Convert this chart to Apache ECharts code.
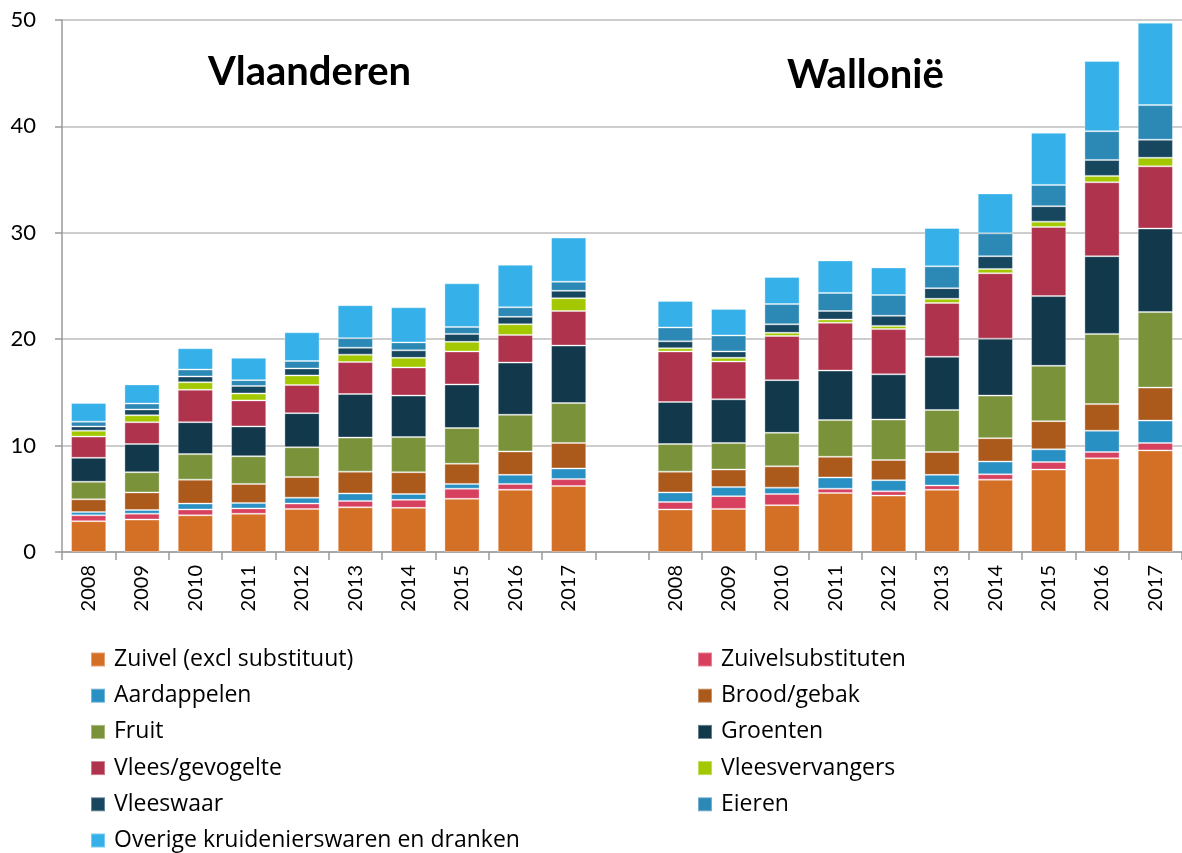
<!DOCTYPE html>
<html>
<head>
<meta charset="utf-8">
<script src="https://cdn.jsdelivr.net/npm/echarts@6/dist/echarts.min.js"></script>
<style>
  html, body { margin: 0; padding: 0; background: #fff; }
  #chart { width: 1182px; height: 853px; }
</style>
</head>
<body>
<div id="chart"></div>
<script>
//--------------------- Data ---------------------------//
// 10 years Vlaanderen, one empty slot, 10 years Wallonië
const years = ['2008', '2009', '2010', '2011', '2012', '2013', '2014', '2015', '2016', '2017'];
const categories = [...years, '', ...years];

const zuivel = [2.9, 3.05, 3.45, 3.6, 4.05, 4.2, 4.15, 5.0, 5.85, 6.2, '-', 4.0, 4.05, 4.4, 5.55, 5.3, 5.85, 6.8, 7.75, 8.8, 9.55];
const zuivelsubstituten = [0.55, 0.55, 0.55, 0.5, 0.5, 0.6, 0.75, 0.95, 0.55, 0.65, '-', 0.7, 1.2, 1.05, 0.4, 0.4, 0.4, 0.5, 0.7, 0.6, 0.7];
const aardappelen = [0.3, 0.35, 0.55, 0.5, 0.55, 0.7, 0.55, 0.45, 0.85, 1.0, '-', 0.9, 0.85, 0.6, 1.05, 1.05, 1.0, 1.2, 1.2, 2.0, 2.1];
const brood = [1.2, 1.65, 2.25, 1.8, 1.95, 2.05, 2.05, 1.9, 2.2, 2.4, '-', 1.95, 1.65, 2.0, 1.95, 1.9, 2.15, 2.2, 2.65, 2.5, 3.1];
const fruit = [1.65, 1.9, 2.4, 2.6, 2.8, 3.2, 3.3, 3.35, 3.45, 3.75, '-', 2.6, 2.5, 3.15, 3.45, 3.8, 3.95, 4.0, 5.2, 6.6, 7.1];
const groenten = [2.25, 2.65, 3.0, 2.8, 3.2, 4.1, 3.9, 4.1, 4.9, 5.4, '-', 3.95, 4.1, 4.95, 4.65, 4.25, 5.0, 5.35, 6.55, 7.3, 7.85];
const vlees = [2.0, 2.05, 3.05, 2.45, 2.65, 3.0, 2.65, 3.1, 2.6, 3.25, '-', 4.75, 3.55, 4.15, 4.5, 4.25, 5.05, 6.15, 6.5, 6.95, 5.85];
const vleesvervangers = [0.55, 0.65, 0.7, 0.65, 0.9, 0.7, 0.9, 0.9, 1.0, 1.2, '-', 0.3, 0.35, 0.3, 0.3, 0.3, 0.4, 0.4, 0.5, 0.6, 0.8];
const vleeswaar = [0.4, 0.55, 0.55, 0.7, 0.65, 0.65, 0.7, 0.75, 0.7, 0.7, '-', 0.65, 0.6, 0.8, 0.8, 0.95, 1.0, 1.2, 1.45, 1.5, 1.7];
const eieren = [0.45, 0.55, 0.65, 0.55, 0.7, 0.9, 0.75, 0.65, 0.9, 0.85, '-', 1.3, 1.5, 1.9, 1.7, 1.95, 2.05, 2.15, 2.0, 2.7, 3.25];
const overige = [1.75, 1.8, 2.0, 2.1, 2.7, 3.1, 3.3, 4.1, 4.0, 4.15, '-', 2.5, 2.5, 2.55, 3.05, 2.6, 3.6, 3.75, 4.9, 6.6, 7.75];

const seriesNames = [
  'Zuivel (excl substituut)', 'Zuivelsubstituten', 'Aardappelen', 'Brood/gebak',
  'Fruit', 'Groenten', 'Vlees/gevogelte', 'Vleesvervangers', 'Vleeswaar', 'Eieren',
  'Overige kruidenierswaren en dranken'
];
const seriesData = [zuivel, zuivelsubstituten, aardappelen, brood, fruit, groenten, vlees, vleesvervangers, vleeswaar, eieren, overige];
const colors = ['#D46F26', '#D7405F', '#2990C4', '#AC5A1C', '#7A933B', '#12384C', '#B0334D', '#A3C800', '#17465F', '#2C88B4', '#35B0E8'];

//--------------------- Chart ---------------------------//
const font = 'Lato';
const legendFont = 'Open Sans';
const chart = echarts.init(document.getElementById('chart'), null, { renderer: 'canvas' });

const legendBase = {
  orient: 'vertical',
  icon: 'rect',
  padding: 0,
  height: 240,
  itemWidth: 14,
  itemHeight: 14,
  itemGap: 13.2,
  selectedMode: false,
  textStyle: { fontFamily: legendFont, fontSize: 23, lineHeight: 22, color: '#000', padding: [0, 0, 0, 4] }
};

const option = {
  animation: false,
  color: colors,
  grid: { left: 62, right: 0, top: 20, bottom: 301, containLabel: false },
  graphic: [
    { type: 'text', left: 208, top: 52, style: { text: 'Vlaanderen', font: 'bold 40px Lato', fill: '#000' } },
    { type: 'text', left: 787, top: 55, style: { text: 'Wallonië', font: 'bold 40px Lato', fill: '#000' } }
  ],
  legend: [
    Object.assign({}, legendBase, { left: 90, top: 648, data: seriesNames.filter((_, i) => i % 2 === 0) }),
    Object.assign({}, legendBase, { left: 697, top: 648, data: seriesNames.filter((_, i) => i % 2 === 1) })
  ],
  xAxis: {
    type: 'category',
    data: categories,
    axisLine: { lineStyle: { color: '#9A9A9A', width: 1.5 } },
    axisTick: { show: true, length: 8, lineStyle: { color: '#9A9A9A', width: 1.5 } },
    axisLabel: { rotate: 90, interval: 0, margin: 13, fontFamily: font, fontSize: 20, color: '#000' }
  },
  yAxis: {
    type: 'value',
    min: 0,
    max: 50,
    interval: 10,
    axisLine: { show: true, lineStyle: { color: '#9A9A9A', width: 1.5 } },
    axisTick: { show: true, length: 7, lineStyle: { color: '#9A9A9A', width: 1.5 } },
    axisLabel: { margin: 26, fontFamily: font, fontSize: 22, color: '#000' },
    splitLine: { lineStyle: { color: '#BDBDBD', width: 1.5 } }
  },
  series: seriesNames.map((name, i) => ({
    name: name,
    type: 'bar',
    stack: 'total',
    barCategoryGap: '34%',
    data: seriesData[i],
    itemStyle: { color: colors[i], borderColor: 'rgba(255,255,255,0.35)', borderWidth: 1 }
  }))
};

chart.setOption(option);
</script>
</body>
</html>
